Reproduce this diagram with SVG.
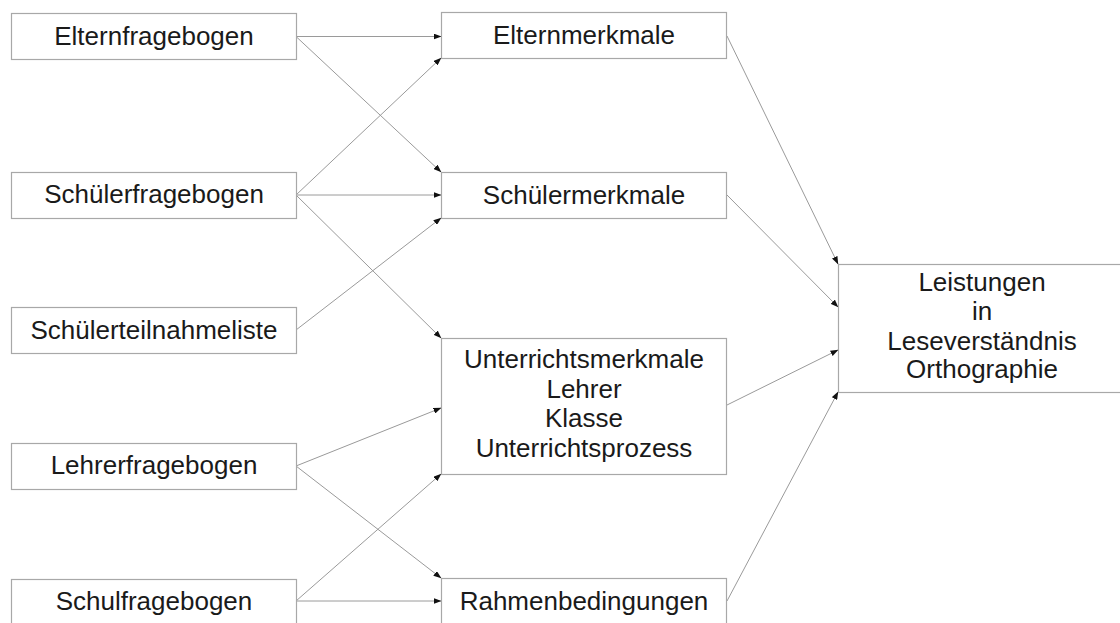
<svg xmlns="http://www.w3.org/2000/svg" width="1120" height="623" viewBox="0 0 1120 623">
<defs>
<marker id="ah" markerUnits="userSpaceOnUse" markerWidth="8" markerHeight="6" refX="7.5" refY="3" orient="auto">
<path d="M0,0 L8,3 L0,6 Z" fill="#111"/>
</marker>
<style>
.box{fill:#fff;stroke:#a8a8a8;stroke-width:1.2}
.t{font-family:"Liberation Sans",Arial,sans-serif;font-size:26px;fill:#1a1a1a;text-anchor:middle}
.c{stroke:#9a9a9a;stroke-width:1;fill:none;marker-end:url(#ah)}
</style>
</defs>
<rect width="1120" height="623" fill="#fff"/>
<g id="connectors">
<line class="c" x1="296" y1="36.5" x2="441" y2="36.5"/>
<line class="c" x1="296" y1="36.5" x2="441" y2="172"/>
<line class="c" x1="296" y1="195" x2="441" y2="58"/>
<line class="c" x1="296" y1="195" x2="441" y2="195"/>
<line class="c" x1="296" y1="195" x2="441" y2="338"/>
<line class="c" x1="296" y1="330" x2="441" y2="218"/>
<line class="c" x1="296" y1="466" x2="441" y2="408"/>
<line class="c" x1="296" y1="466" x2="441" y2="578"/>
<line class="c" x1="296" y1="601" x2="441" y2="474"/>
<line class="c" x1="296" y1="601" x2="441" y2="601"/>
<line class="c" x1="727" y1="36" x2="838" y2="264"/>
<line class="c" x1="727" y1="195" x2="838" y2="307"/>
<line class="c" x1="727" y1="405" x2="838" y2="350"/>
<line class="c" x1="727" y1="601" x2="838" y2="392"/>
</g>
<g id="elternfragebogen"><rect class="box" x="11.5" y="13.5" width="285" height="46"/><text class="t" x="154" y="45">Elternfragebogen</text></g>
<g id="schuelerfragebogen"><rect class="box" x="11.5" y="172.5" width="285" height="46"/><text class="t" x="154" y="203">Schülerfragebogen</text></g>
<g id="schuelerteilnahmeliste"><rect class="box" x="11.5" y="307.5" width="285" height="46"/><text class="t" x="154" y="339">Schülerteilnahmeliste</text></g>
<g id="lehrerfragebogen"><rect class="box" x="11.5" y="443.5" width="285" height="46"/><text class="t" x="154" y="474">Lehrerfragebogen</text></g>
<g id="schulfragebogen"><rect class="box" x="11.5" y="579.5" width="285" height="46"/><text class="t" x="154" y="610">Schulfragebogen</text></g>
<g id="elternmerkmale"><rect class="box" x="441.5" y="12.5" width="285" height="46"/><text class="t" x="584" y="44">Elternmerkmale</text></g>
<g id="schuelermerkmale"><rect class="box" x="441.5" y="172.5" width="285" height="46"/><text class="t" x="584" y="204">Schülermerkmale</text></g>
<g id="unterrichtsmerkmale"><rect class="box" x="441.5" y="338.5" width="285" height="136"/><text class="t" x="584" y="368">Unterrichtsmerkmale</text><text class="t" x="584" y="398">Lehrer</text><text class="t" x="584" y="427">Klasse</text><text class="t" x="584" y="457">Unterrichtsprozess</text></g>
<g id="rahmenbedingungen"><rect class="box" x="441.5" y="578.5" width="285" height="46"/><text class="t" x="584" y="610">Rahmenbedingungen</text></g>
<g id="leistungen"><rect class="box" x="838.5" y="264.5" width="300" height="128"/><text class="t" x="982" y="291">Leistungen</text><text class="t" x="982" y="320">in</text><text class="t" x="982" y="350">Leseverständnis</text><text class="t" x="982" y="378">Orthographie</text></g>
</svg>
